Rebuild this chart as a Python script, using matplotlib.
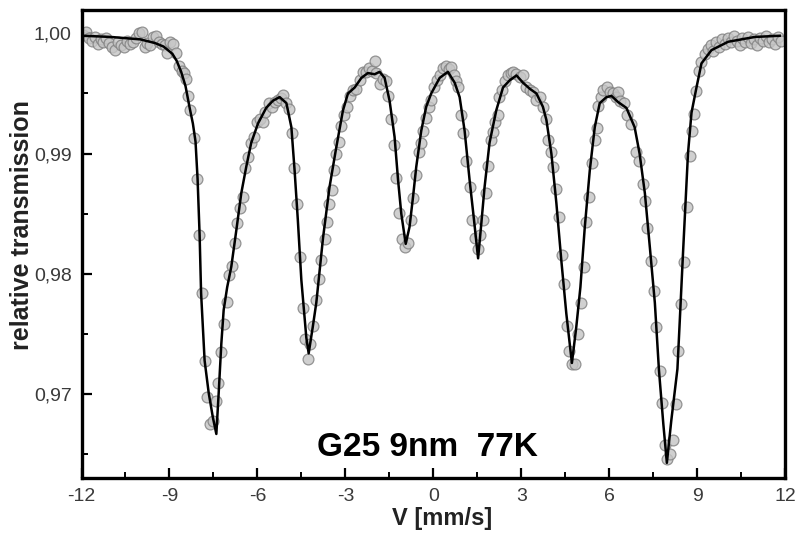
import matplotlib
matplotlib.use("Agg")
import matplotlib.pyplot as plt

# ---- measured points (velocity mm/s, relative transmission) ----
velocity = [
    -11.95, -11.85, -11.75, -11.65, -11.55, -11.45, -11.35, -11.25, -11.15, -11.05,
    -10.95, -10.85, -10.75, -10.65, -10.55, -10.45, -10.35, -10.25, -10.15, -10.05,
    -9.95, -9.85, -9.75, -9.65, -9.55, -9.45, -9.35, -9.25, -9.15, -9.07,
    -8.97, -8.87, -8.77, -8.68, -8.58, -8.49, -8.42, -8.36, -8.29, -8.17,
    -8.07, -7.98, -7.88, -7.78, -7.71, -7.63, -7.53, -7.42, -7.33, -7.23,
    -7.14, -7.05, -6.97, -6.88, -6.77, -6.69, -6.58, -6.49, -6.41, -6.32,
    -6.23, -6.12, -6.01, -5.90, -5.81, -5.73, -5.62, -5.51, -5.40, -5.30,
    -5.20, -5.12, -5.02, -4.92, -4.83, -4.75, -4.65, -4.56, -4.46, -4.38,
    -4.28, -4.19, -4.09, -3.99, -3.90, -3.82, -3.71, -3.62, -3.54, -3.47,
    -3.39, -3.31, -3.22, -3.14, -3.04, -2.95, -2.85, -2.74, -2.64, -2.51,
    -2.40, -2.30, -2.20, -2.10, -2.00, -1.94, -1.83, -1.72, -1.62, -1.55,
    -1.45, -1.35, -1.26, -1.16, -1.06, -0.95, -0.85, -0.77, -0.68, -0.60,
    -0.50, -0.42, -0.34, -0.24, -0.15, -0.06, 0.03, 0.12, 0.22, 0.33,
    0.45, 0.53, 0.62, 0.70, 0.79, 0.86, 0.93, 1.02, 1.13, 1.24,
    1.33, 1.42, 1.52, 1.60, 1.70, 1.80, 1.88, 1.98, 2.05, 2.12,
    2.20, 2.26, 2.33, 2.44, 2.55, 2.64, 2.73, 2.84, 2.95, 3.06,
    3.18, 3.29, 3.40, 3.50, 3.63, 3.74, 3.86, 3.93, 4.00, 4.09,
    4.18, 4.29, 4.38, 4.46, 4.56, 4.64, 4.72, 4.84, 4.93, 5.04,
    5.13, 5.22, 5.31, 5.42, 5.51, 5.57, 5.63, 5.71, 5.80, 5.92,
    6.02, 6.12, 6.22, 6.30, 6.38, 6.50, 6.61, 6.76, 6.91, 7.02,
    7.14, 7.22, 7.30, 7.44, 7.52, 7.61, 7.73, 7.82, 7.90, 7.99,
    8.07, 8.18, 8.27, 8.35, 8.46, 8.55, 8.64, 8.75, 8.83, 8.89,
    8.98, 9.06, 9.15, 9.26, 9.38, 9.46, 9.55, 9.65, 9.75, 9.85,
    9.95, 10.05, 10.15, 10.25, 10.35, 10.45, 10.55, 10.65, 10.75, 10.85,
    10.95, 11.05, 11.15, 11.25, 11.35, 11.45, 11.55, 11.65, 11.75, 11.85,
]
transmission = [
    0.9999, 1.0001, 0.9996, 0.9994, 0.9997, 0.9991, 0.9995, 0.9993, 0.9996, 0.9992,
    0.9989, 0.9986, 0.9993, 0.9990, 0.9989, 0.9994, 0.9991, 0.9993, 0.9996, 1.0000,
    1.0001, 0.9989, 0.9992, 0.9990, 0.9997, 0.9998, 0.9993, 0.9991, 0.9990, 0.9984,
    0.9993, 0.9991, 0.9984, 0.9973, 0.9969, 0.9967, 0.9962, 0.9948, 0.9936, 0.9913,
    0.9879, 0.9832, 0.9784, 0.9728, 0.9698, 0.9675, 0.9678, 0.9694, 0.9709, 0.9735,
    0.9758, 0.9777, 0.9799, 0.9807, 0.9826, 0.9842, 0.9855, 0.9864, 0.9888, 0.9897,
    0.9909, 0.9914, 0.9926, 0.9929, 0.9926, 0.9935, 0.9942, 0.9939, 0.9943, 0.9945,
    0.9946, 0.9949, 0.9942, 0.9937, 0.9917, 0.9888, 0.9858, 0.9814, 0.9772, 0.9746,
    0.9729, 0.9742, 0.9757, 0.9778, 0.9796, 0.9812, 0.9829, 0.9843, 0.9858, 0.9870,
    0.9886, 0.9900, 0.9910, 0.9923, 0.9932, 0.9939, 0.9948, 0.9953, 0.9954, 0.9961,
    0.9968, 0.9968, 0.9971, 0.9969, 0.9977, 0.9967, 0.9958, 0.9962, 0.9960, 0.9948,
    0.9929, 0.9907, 0.9880, 0.9851, 0.9829, 0.9822, 0.9826, 0.9845, 0.9863, 0.9882,
    0.9901, 0.9909, 0.9919, 0.9930, 0.9939, 0.9945, 0.9955, 0.9961, 0.9965, 0.9971,
    0.9973, 0.9970, 0.9972, 0.9965, 0.9960, 0.9955, 0.9932, 0.9917, 0.9894, 0.9872,
    0.9845, 0.9830, 0.9821, 0.9832, 0.9845, 0.9867, 0.9890, 0.9911, 0.9918, 0.9926,
    0.9932, 0.9947, 0.9953, 0.9960, 0.9965, 0.9967, 0.9968, 0.9966, 0.9964, 0.9965,
    0.9955, 0.9953, 0.9951, 0.9945, 0.9947, 0.9939, 0.9929, 0.9911, 0.9901, 0.9889,
    0.9871, 0.9847, 0.9816, 0.9792, 0.9757, 0.9736, 0.9725, 0.9725, 0.9750, 0.9776,
    0.9806, 0.9843, 0.9864, 0.9892, 0.9911, 0.9921, 0.9940, 0.9947, 0.9953, 0.9955,
    0.9951, 0.9950, 0.9947, 0.9951, 0.9944, 0.9942, 0.9932, 0.9925, 0.9901, 0.9894,
    0.9875, 0.9861, 0.9838, 0.9811, 0.9786, 0.9756, 0.9719, 0.9693, 0.9658, 0.9646,
    0.9650, 0.9662, 0.9692, 0.9736, 0.9775, 0.9810, 0.9856, 0.9898, 0.9919, 0.9933,
    0.9952, 0.9969, 0.9976, 0.9983, 0.9987, 0.9990, 0.9985, 0.9993, 0.9989, 0.9995,
    0.9991, 0.9996, 0.9993, 0.9998, 0.9994, 0.9990, 0.9996, 0.9993, 0.9997, 0.9992,
    0.9995, 0.9990, 0.9996, 0.9994, 0.9998, 0.9993, 0.9995, 0.9991, 0.9997, 0.9994,
]

# ---- fitted curve ----
fit_v = [
    -11.95, -11.0, -10.0, -9.5, -9.2, -8.9, -8.75, -8.6, -8.45, -8.31,
    -8.20, -8.11, -8.04, -7.97, -7.94, -7.92, -7.80, -7.66, -7.52, -7.40,
    -7.32, -7.23, -7.15, -7.03, -6.89, -6.72, -6.55, -6.38, -6.21, -5.98,
    -5.70, -5.47, -5.24, -5.01, -4.84, -4.73, -4.62, -4.50, -4.33, -4.25,
    -4.11, -3.99, -3.76, -3.54, -3.31, -3.08, -2.91, -2.68, -2.45, -2.23,
    -2.00, -1.83, -1.66, -1.49, -1.32, -1.20, -1.09, -0.94, -0.81, -0.69,
    -0.58, -0.41, -0.24, -0.07, 0.22, 0.50, 0.73, 0.90, 1.07, 1.24,
    1.39, 1.53, 1.64, 1.75, 1.92, 2.15, 2.38, 2.61, 2.84, 3.06,
    3.29, 3.52, 3.74, 3.86, 4.03, 4.20, 4.37, 4.54, 4.73, 4.88,
    5.02, 5.17, 5.34, 5.51, 5.68, 5.91, 6.08, 6.30, 6.59, 6.87,
    7.04, 7.22, 7.39, 7.56, 7.70, 7.85, 7.97, 8.12, 8.33, 8.41,
    8.52, 8.60, 8.69, 8.81, 8.98, 9.15, 9.49, 10.06, 10.97, 11.82,
]
fit_t = [
    0.9998, 0.9997, 0.9995, 0.9992, 0.9989, 0.9983, 0.9977, 0.9968, 0.9956, 0.9938,
    0.9925, 0.9910, 0.9879, 0.9832, 0.9803, 0.9784, 0.9728, 0.9701, 0.9681, 0.9667,
    0.9701, 0.9742, 0.9770, 0.9789, 0.9806, 0.9836, 0.9867, 0.9889, 0.9909, 0.9925,
    0.9938, 0.9944, 0.9947, 0.9942, 0.9922, 0.9886, 0.9845, 0.9795, 0.9747, 0.9734,
    0.9756, 0.9776, 0.9830, 0.9872, 0.9905, 0.9936, 0.9950, 0.9955, 0.9963, 0.9967,
    0.9966, 0.9968, 0.9963, 0.9944, 0.9914, 0.9878, 0.9850, 0.9825, 0.9839, 0.9864,
    0.9889, 0.9919, 0.9939, 0.9950, 0.9963, 0.9968, 0.9959, 0.9947, 0.9919, 0.9878,
    0.9845, 0.9813, 0.9842, 0.9872, 0.9909, 0.9936, 0.9955, 0.9961, 0.9965, 0.9959,
    0.9954, 0.9950, 0.9939, 0.9928, 0.9900, 0.9859, 0.9811, 0.9767, 0.9726, 0.9756,
    0.9789, 0.9839, 0.9886, 0.9922, 0.9942, 0.9947, 0.9948, 0.9943, 0.9938, 0.9922,
    0.9900, 0.9867, 0.9822, 0.9776, 0.9720, 0.9675, 0.9643, 0.9678, 0.9721, 0.9761,
    0.9817, 0.9856, 0.9900, 0.9934, 0.9955, 0.9975, 0.9986, 0.9993, 0.9997, 0.9998,
]

x_ticks = [-12, -9, -6, -3, 0, 3, 6, 9, 12]
x_tick_labels = ["-12", "-9", "-6", "-3", "0", "3", "6", "9", "12"]
y_ticks = [0.97, 0.98, 0.99, 1.00]
y_tick_labels = ["0,97", "0,98", "0,99", "1,00"]
x_minor = [-10.5, -7.5, -4.5, -1.5, 1.5, 4.5, 7.5, 10.5]
y_minor = [0.965, 0.975, 0.985, 0.995]

x_label = "V [mm/s]"
y_label = "relative transmission"
annotation = "G25 9nm  77K"

plt.rcParams['font.family'] = ['Liberation Sans', 'DejaVu Sans']

fig = plt.figure(figsize=(7.99, 5.38), dpi=100)
ax = fig.add_axes([81.5 / 799, 60 / 538, 703.5 / 799, 468 / 538])

ax.plot(velocity, transmission, linestyle='none', marker='o', markersize=7.8,
        markerfacecolor='#c6c6c6', markeredgecolor='#808080', markeredgewidth=0.9,
        alpha=0.82, zorder=2)
ax.plot(fit_v, fit_t, color='black', linewidth=1.8, zorder=3)

ax.set_xlim(-12, 12)
ax.set_ylim(0.96304, 1.00194)

ax.set_xticks(x_ticks)
ax.set_xticklabels(x_tick_labels)
ax.set_yticks(y_ticks)
ax.set_yticklabels(y_tick_labels)
ax.set_xticks(x_minor, minor=True)
ax.set_yticks(y_minor, minor=True)

ax.tick_params(which='major', direction='in', length=7, width=1.6,
               labelsize=14, labelcolor='#3a3a3a', pad=7)
ax.tick_params(which='minor', direction='in', length=4, width=1.4)
for s in ax.spines.values():
    s.set_linewidth(2.4)

fig.text(22 / 799, 1 - 225 / 538, y_label, rotation=90, ha='center', va='center',
         fontsize=18, fontweight='bold', color='#222222')
fig.text(442 / 799, 1 - 518 / 538, x_label, ha='center', va='center',
         fontsize=17, fontweight='bold', color='#222222')
ax.text(-3.95, 0.9649, annotation, ha='left', va='baseline',
        fontsize=24, fontweight='bold', color='black')

fig.savefig("out.png", dpi=100)
